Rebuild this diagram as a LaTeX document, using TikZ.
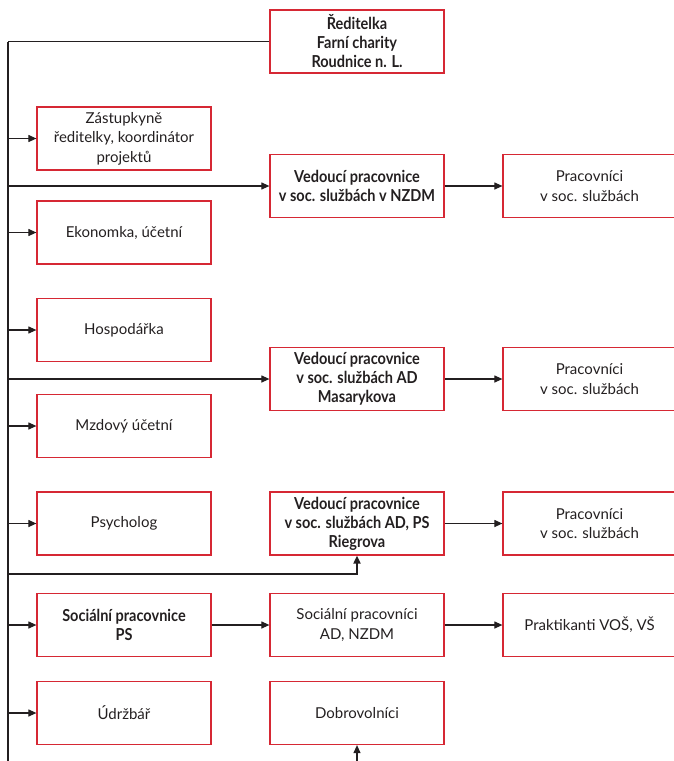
\documentclass[tikz,border=0pt]{standalone}
\usepackage{fontspec}
\setmainfont{Lato}
\newfontfamily\bfc[FakeStretch=0.88]{Lato}
\usetikzlibrary{arrows.meta}
\definecolor{boxred}{RGB}{214,40,52}
\definecolor{ink}{RGB}{35,31,32}
\tikzset{
  box/.style={draw=boxred, line width=1.2pt, minimum width=174pt, minimum height=63pt,
    inner sep=0pt, align=center, font=\fontsize{15}{19.5}\selectfont, text=ink},
  boldbox/.style={box, font=\fontsize{16.5}{19}\bfc\bfseries},
  rbox/.style={box, minimum width=173pt},
  conn/.style={draw=ink, line width=1.1pt, -{Triangle[length=8pt,width=7pt]}},
  thickconn/.style={draw=ink, line width=1.8pt, -{Triangle[length=8pt,width=7pt]}},
  trunk/.style={draw=ink, line width=1.1pt},
}
\begin{document}
\begin{tikzpicture}[x=1pt,y=-1pt]
\useasboundingbox (0,0) rectangle (674,761);
% top
\node[boldbox] (top) at (357,41.5) {Ředitelka\\Farní charity\\Roudnice n. L.};
% left column
\node[box] (zast) at (124,138.5) {Zástupkyně\\ředitelky, koordinátor\\projektů};
\node[box] (ekon) at (124,232.5) {Ekonomka, účetní};
\node[box] (hosp) at (124,330) {Hospodářka};
\node[box] (mzd) at (124,426) {Mzdový účetní};
\node[box] (psy) at (124,523.5) {Psycholog};
\node[boldbox] (socps) at (124,625) {Sociální pracovnice\\PS};
\node[box] (udr) at (124,713) {Údržbář};
% middle column
\node[boldbox] (nzdm) at (357,186) {Vedoucí pracovnice\\v soc. službách v NZDM};
\node[boldbox] (masar) at (357,379) {Vedoucí pracovnice\\v soc. službách AD\\Masarykova};
\node[boldbox] (rieg) at (357,523.5) {Vedoucí pracovnice\\v soc. službách AD, PS\\Riegrova};
\node[box] (socad) at (357,625) {Sociální pracovníci\\AD, NZDM};
\node[box] (dobr) at (357,713) {Dobrovolníci};
% right column
\node[rbox] (r1) at (589.5,186) {Pracovníci\\v soc. službách};
\node[rbox] (r2) at (589.5,379) {Pracovníci\\v soc. službách};
\node[rbox] (r3) at (589.5,523.5) {Pracovníci\\v soc. službách};
\node[rbox] (prakt) at (589.5,625) {Praktikanti VOŠ, VŠ};
% trunk
\coordinate (L0) at (8,41.5);
\coordinate (Lb) at (8,761);
\coordinate (Lr) at (8,574);
\coordinate (db) at (357,761);
\draw[draw=ink, line width=1.8pt] (top.west) -- (L0);
\draw[trunk] (L0) -- (Lb);
% branches to left column
\foreach \n in {zast,ekon,hosp,mzd,psy,socps,udr}
  \draw[conn] (\n.west -| L0) -- (\n.west);
% branches to middle
\draw[conn] (nzdm.west -| L0) -- (nzdm.west);
\draw[conn] (masar.west -| L0) -- (masar.west);
\draw[thickconn] (Lr) -| (rieg.south);
\draw[conn] (db) -- (dobr.south);
% middle to right
\draw[conn] (nzdm.east) -- (r1.west);
\draw[conn] (masar.east) -- (r2.west);
\draw[conn] (rieg.east) -- (r3.west);
\draw[conn] (socps.east) -- (socad.west);
\draw[conn] (socad.east) -- (prakt.west);
\end{tikzpicture}
\end{document}
